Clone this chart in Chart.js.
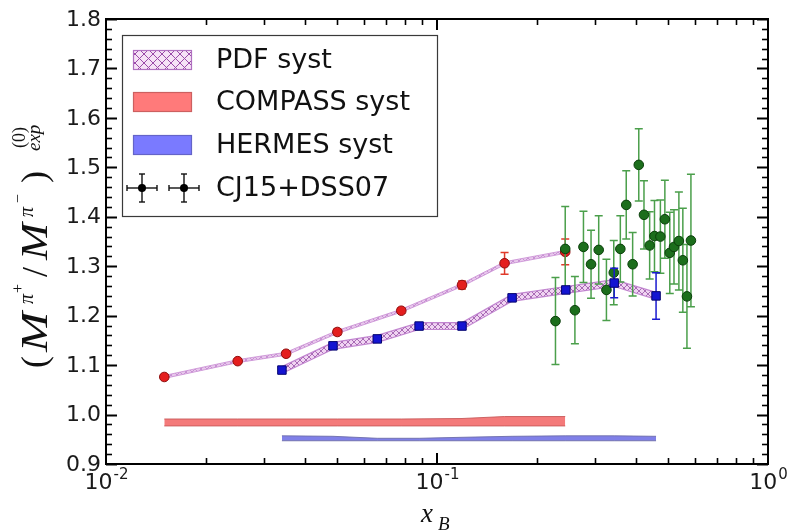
<!DOCTYPE html>
<html lang="en">
<head>
<meta charset="UTF-8">
<title>Pion multiplicity ratio vs x_B</title>
<script src="https://cdn.jsdelivr.net/npm/chart.js"></script>
<style>
  html, body { margin: 0; padding: 0; background: #fff; }
  #wrap { width: 790px; height: 532px; }
</style>
</head>
<body>
<div id="wrap"><canvas id="ratioChart" width="790" height="532"></canvas></div>
<script>
// COMPASS (red points)
const compassX   = [0.015, 0.025, 0.035, 0.050, 0.078, 0.119, 0.160, 0.244];
const compassY   = [1.076, 1.108, 1.123, 1.167, 1.210, 1.262, 1.306, 1.329];
const compassErr = [0.004, 0.004, 0.005, 0.006, 0.005, 0.008, 0.022, 0.026];
const compassPdf = [0.003, 0.003, 0.003, 0.003, 0.003, 0.003, 0.003, 0.003];
const compassSystLow  = [0.977, 0.977, 0.977, 0.977, 0.977, 0.977, 0.977, 0.977];
const compassSystHigh = [0.991, 0.991, 0.991, 0.991, 0.991, 0.992, 0.996, 0.996];

// HERMES (blue points)
const hermesX   = [0.034, 0.0485, 0.066, 0.0883, 0.119, 0.1686, 0.245, 0.343, 0.459];
const hermesY   = [1.090, 1.139, 1.153, 1.179, 1.179, 1.236, 1.252, 1.266, 1.240];
const hermesErr = [0.005, 0.005, 0.006, 0.006, 0.005, 0.004, 0.006, 0.030, 0.047];
const hermesPdf = [0.007, 0.007, 0.007, 0.007, 0.007, 0.007, 0.007, 0.007, 0.007];
const hermesSystLow  = [0.947, 0.947, 0.947, 0.947, 0.947, 0.947, 0.947, 0.947, 0.947];
const hermesSystHigh = [0.957, 0.956, 0.952, 0.952, 0.954, 0.956, 0.957, 0.957, 0.956];

// green points
const greenX   = [0.228, 0.244, 0.261, 0.277, 0.292, 0.308, 0.325, 0.342, 0.358, 0.373, 0.390, 0.407,
                  0.422, 0.439, 0.454, 0.473, 0.488, 0.505, 0.520, 0.538, 0.553, 0.569, 0.585];
const greenY   = [1.189, 1.335, 1.211, 1.339, 1.304, 1.333, 1.252, 1.287, 1.335, 1.424, 1.304, 1.505,
                  1.404, 1.342, 1.361, 1.360, 1.395, 1.327, 1.339, 1.351, 1.312, 1.239, 1.352];
const greenErr = [0.088, 0.086, 0.068, 0.072, 0.069, 0.069, 0.062, 0.065, 0.067, 0.069, 0.064, 0.073,
                  0.069, 0.068, 0.072, 0.074, 0.079, 0.082, 0.075, 0.099, 0.105, 0.105, 0.134];

// axes
const yTickValues = [0.9, 1.0, 1.1, 1.2, 1.3, 1.4, 1.5, 1.6, 1.7, 1.8];
const yTickLabels = ['0.9', '1.0', '1.1', '1.2', '1.3', '1.4', '1.5', '1.6', '1.7', '1.8'];
const xTickValues = [0.01, 0.1, 1];
const xTickExps   = ['-2', '-1', '0'];
const legendLabels = ['PDF syst', 'COMPASS syst', 'HERMES syst', 'CJ15+DSS07'];

const toPoints = (xs, ys) => xs.map((x, i) => ({ x: x, y: ys[i] }));
const shifted = (ys, errs, sign) => ys.map((y, i) => y + sign * errs[i]);

// cross hatch used for the PDF bands
function makeHatch(size, bg, fg) {
    const c = document.createElement('canvas');
    c.width = size; c.height = size;
    const g = c.getContext('2d');
    g.fillStyle = bg;
    g.fillRect(0, 0, size, size);
    g.strokeStyle = fg;
    g.lineWidth = 1;
    g.beginPath();
    g.moveTo(0, 0); g.lineTo(size, size);
    g.moveTo(size, 0); g.lineTo(0, size);
    g.stroke();
    return document.getElementById('ratioChart').getContext('2d').createPattern(c, 'repeat');
}
const hatchBand = makeHatch(6, 'rgba(240,212,242,1)', 'rgba(150,80,165,0.8)');
const hatchThin = makeHatch(6, 'rgba(232,200,236,1)', 'rgba(190,130,205,0.8)');
const hatchLegend = makeHatch(9, '#f6e2f6', '#9a4aa8');

function bandLine(xs, ys, color, fill, width, order) {
    return {
        type: 'line', data: toPoints(xs, ys), showLine: true, pointRadius: 0,
        borderColor: color, borderWidth: width, backgroundColor: fill,
        fill: fill ? '-1' : false, tension: 0, order: order
    };
}

const datasets = [
    // measured points
    { type: 'line', label: 'HERMES', data: toPoints(hermesX, hermesY), showLine: false,
      pointStyle: 'rect', pointRadius: 6, backgroundColor: '#1414d2', borderColor: '#06066e', borderWidth: 1,
      errY: hermesErr, errColor: '#1a1ad0', order: 1 },
    { type: 'line', label: 'green', data: toPoints(greenX, greenY), showLine: false,
      pointStyle: 'circle', pointRadius: 4.8, backgroundColor: '#1c6e1c', borderColor: '#0b3f0b', borderWidth: 1,
      errY: greenErr, errColor: '#4b9f4b', order: 2 },
    { type: 'line', label: 'COMPASS', data: toPoints(compassX, compassY), showLine: false,
      pointStyle: 'circle', pointRadius: 4.8, backgroundColor: '#e41e1e', borderColor: '#8e0e0e', borderWidth: 1,
      errY: compassErr, errColor: '#e03a2a', order: 3 },
    // PDF bands
    bandLine(compassX, shifted(compassY, compassPdf, -1), 'rgba(205,150,215,0.9)', null, 1, 5),
    bandLine(compassX, shifted(compassY, compassPdf, 1), 'rgba(205,150,215,0.9)', hatchThin, 1, 5),
    bandLine(hermesX, shifted(hermesY, hermesPdf, -1), 'rgba(190,125,205,0.9)', null, 1.2, 5),
    bandLine(hermesX, shifted(hermesY, hermesPdf, 1), 'rgba(190,125,205,0.9)', hatchBand, 1.2, 5),
    // systematic bands
    bandLine(compassX, compassSystLow, 'rgba(200,90,90,0.9)', null, 1, 6),
    bandLine(compassX, compassSystHigh, 'rgba(200,90,90,0.9)', 'rgba(244,122,122,1)', 1, 6),
    bandLine(hermesX, hermesSystLow, 'rgba(110,110,170,0.9)', null, 1, 6),
    bandLine(hermesX, hermesSystHigh, 'rgba(110,110,170,0.9)', 'rgba(128,128,232,1)', 1, 6)
];

// vertical error bars with caps, under each dataset's markers
const errorBars = {
    id: 'errorBars',
    beforeDatasetDraw(chart, args) {
        const ds = chart.data.datasets[args.index];
        if (!ds.errY) return;
        const ctx = chart.ctx, xs = chart.scales.x, ys = chart.scales.y;
        const cap = 4;
        ctx.save();
        ctx.strokeStyle = ds.errColor;
        ctx.lineWidth = 1.5;
        ds.data.forEach((p, i) => {
            const px = xs.getPixelForValue(p.x);
            const top = ys.getPixelForValue(p.y + ds.errY[i]);
            const bot = ys.getPixelForValue(p.y - ds.errY[i]);
            ctx.beginPath();
            ctx.moveTo(px, top); ctx.lineTo(px, bot);
            ctx.moveTo(px - cap, top); ctx.lineTo(px + cap, top);
            ctx.moveTo(px - cap, bot); ctx.lineTo(px + cap, bot);
            ctx.stroke();
        });
        ctx.restore();
    }
};

function drawPieces(ctx, pieces) {
    pieces.forEach(p => {
        ctx.save();
        ctx.font = p.font;
        ctx.translate(p.off, -p.up);
        if (p.sx) ctx.scale(p.sx, 1);
        ctx.fillText(p.t, 0, 0);
        ctx.restore();
    });
}

// frame, inward ticks, tick labels, axis titles, legend
const axesFrame = {
    id: 'axesFrame',
    afterDraw(chart) {
        const ctx = chart.ctx, a = chart.chartArea;
        const xs = chart.scales.x, ys = chart.scales.y;
        ctx.save();
        ctx.strokeStyle = '#000';
        const seg = (x1, y1, x2, y2, w) => {
            ctx.lineWidth = w;
            ctx.beginPath(); ctx.moveTo(x1, y1); ctx.lineTo(x2, y2); ctx.stroke();
        };
        // x ticks (log decades + minors)
        xTickValues.forEach((v, k) => {
            const px = Math.round(xs.getPixelForValue(v));
            seg(px, a.bottom, px, a.bottom - 11, 2);
            seg(px, a.top, px, a.top + 11, 2);
            if (k < xTickValues.length - 1) {
                for (let m = 2; m <= 9; m++) {
                    const mx = Math.round(xs.getPixelForValue(v * m)) + 0.5;
                    seg(mx, a.bottom, mx, a.bottom - 6, 1.6);
                    seg(mx, a.top, mx, a.top + 6, 1.6);
                }
            }
        });
        // y ticks
        for (let i = 0; i <= 45; i++) {
            const v = 0.9 + i * 0.02;
            const py = Math.round(ys.getPixelForValue(v)) + 0.5;
            const major = i % 5 === 0;
            const len = major ? 11 : 6;
            seg(a.left, py, a.left + len, py, major ? 2 : 1.6);
            seg(a.right, py, a.right - len, py, major ? 2 : 1.6);
        }
        // frame
        ctx.lineWidth = 2;
        ctx.strokeRect(a.left, a.top, a.right - a.left, a.bottom - a.top);

        // y tick labels
        ctx.fillStyle = '#1a1a1a';
        ctx.font = '22px "DejaVu Sans"';
        ctx.textAlign = 'right';
        ctx.textBaseline = 'middle';
        yTickValues.forEach((v, i) => {
            ctx.fillText(yTickLabels[i], a.left - 5, ys.getPixelForValue(v) + 1);
        });
        // x tick labels 10^n
        ctx.textAlign = 'left';
        ctx.textBaseline = 'alphabetic';
        xTickValues.forEach((v, i) => {
            const px = xs.getPixelForValue(v);
            ctx.font = '22px "DejaVu Sans"';
            const wb = ctx.measureText('10').width;
            ctx.font = '15px "DejaVu Sans"';
            const we = ctx.measureText(xTickExps[i]).width;
            const x0 = px - (wb + we) / 2;
            ctx.font = '22px "DejaVu Sans"';
            ctx.fillText('10', x0, a.bottom + 25);
            ctx.font = '15px "DejaVu Sans"';
            ctx.fillText(xTickExps[i], x0 + wb + 1, a.bottom + 15);
        });

        // x axis title
        ctx.fillStyle = '#111';
        ctx.font = 'italic 27px "Liberation Serif"';
        ctx.fillText('x', 421, 522);
        ctx.font = 'italic 19px "Liberation Serif"';
        ctx.fillText('B', 438, 530);

        // y axis title, rotated
        ctx.save();
        ctx.translate(47, 370);
        ctx.rotate(-Math.PI / 2);
        const big = '36px "Liberation Serif"', bigI = 'italic 37px "Liberation Serif"';
        drawPieces(ctx, [
            { t: '(', font: big, off: 2, up: 1 },
            { t: 'M', font: bigI, off: 18, up: 0, sx: 1.3 },
            { t: 'π', font: 'italic 20px "Liberation Serif"', off: 66, up: 14 },
            { t: '+', font: '16px "Liberation Serif"', off: 77, up: 24 },
            { t: '/', font: big, off: 93, up: 0 },
            { t: 'M', font: bigI, off: 110, up: 0, sx: 1.2 },
            { t: 'π', font: 'italic 20px "Liberation Serif"', off: 153, up: 14 },
            { t: '−', font: '16px "Liberation Serif"', off: 167, up: 24 },
            { t: ')', font: big, off: 187, up: 1 },
            { t: '(0)', font: '18px "Liberation Serif"', off: 222, up: 22 },
            { t: 'exp', font: 'italic 19px "Liberation Serif"', off: 219, up: 7 }
        ]);
        ctx.restore();

        // legend
        const L = { x: 122, y: 35, w: 315, h: 181 };
        ctx.fillStyle = '#fff';
        ctx.fillRect(L.x, L.y, L.w, L.h);
        ctx.strokeStyle = '#3a3a3a';
        ctx.lineWidth = 1.2;
        ctx.strokeRect(L.x + 0.5, L.y + 0.5, L.w, L.h);
        const rows = [60, 102, 145, 188];
        const patch = (cy, fill, edge) => {
            ctx.fillStyle = fill;
            ctx.fillRect(133, cy - 10, 59, 20);
            ctx.strokeStyle = edge;
            ctx.lineWidth = 1.2;
            ctx.strokeRect(133.5, cy - 9.5, 58, 19);
        };
        patch(rows[0], hatchLegend, '#b070c0');
        patch(rows[1], '#ff7a7a', '#cc6060');
        patch(rows[2], '#7a7aff', '#6464c8');
        // errorbar symbol for the model row
        ctx.strokeStyle = '#111';
        ctx.fillStyle = '#000';
        [142, 184].forEach(cx => {
            const cy = rows[3];
            seg(cx - 15, cy, cx + 15, cy, 1.4);
            seg(cx - 15, cy - 3, cx - 15, cy + 3, 1.4);
            seg(cx + 15, cy - 3, cx + 15, cy + 3, 1.4);
            seg(cx, cy - 14, cx, cy + 14, 1.4);
            seg(cx - 3, cy - 14, cx + 3, cy - 14, 1.4);
            seg(cx - 3, cy + 14, cx + 3, cy + 14, 1.4);
            ctx.beginPath(); ctx.arc(cx, cy, 4, 0, Math.PI * 2); ctx.fill();
        });
        ctx.fillStyle = '#111';
        ctx.font = '27px "DejaVu Sans"';
        ctx.textAlign = 'left';
        ctx.textBaseline = 'middle';
        legendLabels.forEach((t, i) => ctx.fillText(t, 216, rows[i] + 1));
        ctx.restore();
    }
};

new Chart(document.getElementById('ratioChart').getContext('2d'), {
    type: 'line',
    data: { datasets: datasets },
    options: {
        responsive: false,
        animation: false,
        layout: { padding: { left: 106, right: 22, top: 19, bottom: 68 } },
        plugins: { legend: { display: false }, tooltip: { enabled: false } },
        scales: {
            x: { type: 'logarithmic', min: 0.01, max: 1, display: false },
            y: { type: 'linear', min: 0.9, max: 1.8, display: false }
        }
    },
    plugins: [errorBars, axesFrame]
});
</script>
</body>
</html>
